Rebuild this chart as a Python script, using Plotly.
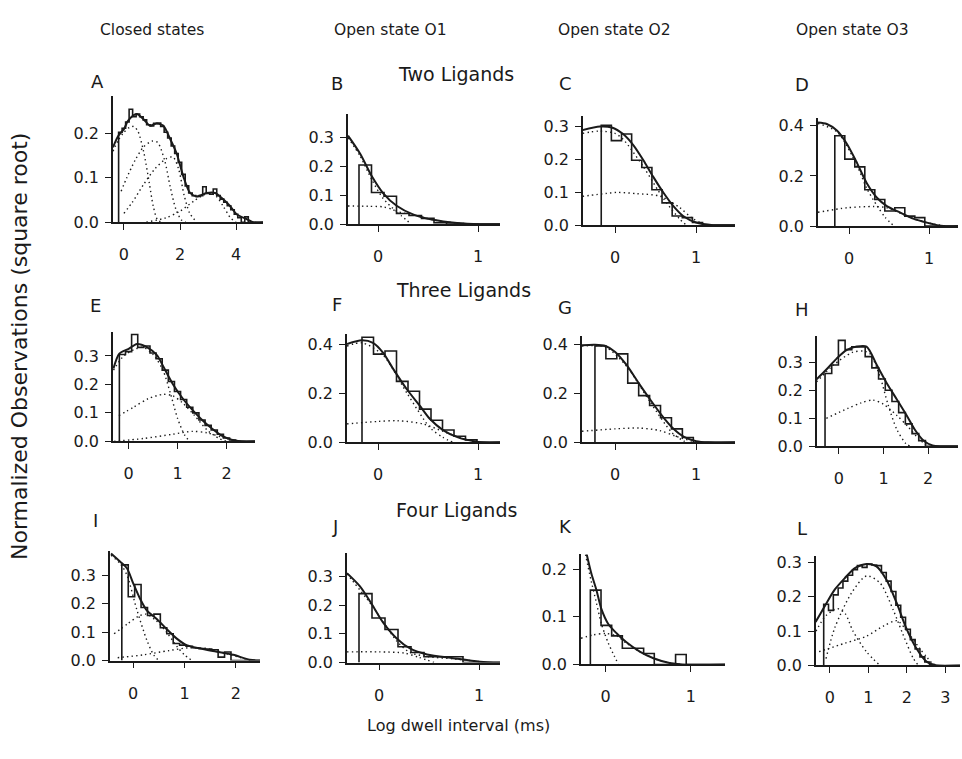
import plotly.graph_objects as go

# ---------------- data: log dwell-time histograms (square-root ordinate) ----------------
# Each histogram: first bin edge, bin width (log units), bin heights.
A_hist_start, A_hist_w = -0.19, 0.125
A_hist = [0.203, 0.212, 0.226, 0.255, 0.238, 0.244, 0.238, 0.231, 0.22, 0.217, 0.223, 0.224,
          0.216, 0.203, 0.19, 0.172, 0.155, 0.135, 0.108, 0.082, 0.066, 0.06, 0.058, 0.06,
          0.08, 0.065, 0.063, 0.075, 0.06, 0.052, 0.045, 0.037, 0.028, 0.018, 0.01, 0.0, 0.012, 0.0]
A_fit = [(-0.39, 0.169), (-0.2, 0.195), (0, 0.21), (0.15, 0.229), (0.45, 0.244), (0.69, 0.233),
         (0.93, 0.218), (1.17, 0.223), (1.4, 0.218), (1.64, 0.189), (1.88, 0.155), (2.12, 0.103),
         (2.36, 0.066), (2.6, 0.058), (2.95, 0.066), (3.25, 0.066), (3.55, 0.051), (3.79, 0.036),
         (4.02, 0.018), (4.38, 0.007), (4.6, 0.0), (4.96, 0.0)]
A_comp1 = [(-0.39, 0.16), (-0.2, 0.185), (0, 0.203), (0.2, 0.214), (0.35, 0.216), (0.5, 0.205),
           (0.7, 0.16), (0.9, 0.09), (1.05, 0.035), (1.2, 0.005), (1.35, 0.0)]
A_comp2 = [(-0.1, 0.07), (0.1, 0.1), (0.4, 0.14), (0.7, 0.17), (1.0, 0.183), (1.2, 0.18),
           (1.45, 0.14), (1.65, 0.08), (1.85, 0.03), (2.05, 0.005), (2.2, 0.0)]
A_comp3 = [(0, 0.02), (0.3, 0.045), (0.7, 0.085), (1.1, 0.12), (1.5, 0.143), (1.75, 0.147),
           (1.95, 0.12), (2.15, 0.06), (2.35, 0.02), (2.6, 0.0)]
A_comp4 = [(0.8, 0.0), (1.5, 0.01), (2.0, 0.025), (2.5, 0.048), (2.8, 0.06), (3.05, 0.066),
           (3.3, 0.058), (3.55, 0.035), (3.8, 0.01), (4.0, 0.0)]

B_hist_start, B_hist_w = -0.19, 0.125
B_hist = [0.205, 0.11, 0.097, 0.037, 0.03, 0.02, 0.005, 0.0]
B_fit = [(-0.3, 0.307), (-0.18, 0.245), (-0.06, 0.165), (0.05, 0.108), (0.19, 0.063), (0.35, 0.034),
         (0.55, 0.015), (0.79, 0.004), (1.02, 0.0), (1.22, 0.0)]
B_comp1 = [(-0.3, 0.063), (-0.1, 0.062), (0.05, 0.06), (0.15, 0.05), (0.23, 0.03), (0.33, 0.0)]
B_comp2 = [(-0.3, 0.3), (-0.18, 0.237), (-0.06, 0.153), (0.05, 0.09), (0.19, 0.045), (0.35, 0.033),
           (0.55, 0.015), (0.79, 0.004), (1.0, 0.0)]

C_hist_start, C_hist_w = -0.17, 0.125
C_hist = [0.305, 0.258, 0.278, 0.198, 0.176, 0.108, 0.068, 0.028, 0.023, 0.008, 0.0]
C_fit = [(-0.4, 0.29), (-0.185, 0.301), (-0.04, 0.298), (0.1, 0.278), (0.23, 0.243), (0.35, 0.198),
         (0.47, 0.148), (0.6, 0.098), (0.72, 0.058), (0.84, 0.028), (1.0, 0.008), (1.21, 0.0), (1.48, 0.0)]
C_comp1 = [(-0.4, 0.28), (-0.2, 0.287), (0.0, 0.28), (0.1, 0.262), (0.35, 0.178), (0.6, 0.08),
           (0.8, 0.018), (0.88, 0.0)]
C_comp2 = [(-0.4, 0.088), (-0.1, 0.097), (0.03, 0.1), (0.27, 0.096), (0.56, 0.088), (0.8, 0.053),
           (0.96, 0.02), (1.13, 0.0)]

D_hist_start, D_hist_w = -0.18, 0.125
D_hist = [0.36, 0.267, 0.236, 0.145, 0.106, 0.06, 0.073, 0.04, 0.034, 0.0]
D_fit = [(-0.39, 0.413), (-0.28, 0.407), (-0.15, 0.38), (-0.03, 0.328), (0.1, 0.25), (0.22, 0.171),
         (0.35, 0.112), (0.47, 0.08), (0.64, 0.054), (0.8, 0.03), (0.97, 0.014), (1.18, 0.0), (1.36, 0.0)]
D_comp1 = [(-0.39, 0.055), (-0.03, 0.073), (0.31, 0.078), (0.47, 0.073), (0.72, 0.04), (0.97, 0.014), (1.2, 0.0)]
D_comp2 = [(-0.39, 0.409), (-0.15, 0.375), (0.1, 0.24), (0.22, 0.15), (0.35, 0.08), (0.45, 0.035), (0.56, 0.0)]

E_hist_start, E_hist_w = -0.19, 0.125
E_hist = [0.305, 0.315, 0.375, 0.33, 0.335, 0.31, 0.29, 0.25, 0.21, 0.175, 0.147, 0.12, 0.1,
          0.075, 0.056, 0.04, 0.025, 0.012, 0.005, 0.0]
E_fit = [(-0.31, 0.256), (-0.19, 0.308), (0.0, 0.325), (0.17, 0.342), (0.37, 0.331), (0.58, 0.302),
         (0.71, 0.262), (0.91, 0.199), (1.12, 0.147), (1.32, 0.107), (1.5, 0.075), (1.7, 0.045),
         (1.9, 0.02), (2.1, 0.006), (2.3, 0.0), (2.58, 0.0)]
E_comp1 = [(-0.31, 0.25), (-0.1, 0.3), (0.15, 0.325), (0.3, 0.33), (0.5, 0.305), (0.7, 0.25),
           (0.85, 0.17), (1.0, 0.08), (1.15, 0.02), (1.25, 0.0)]
E_comp2 = [(-0.2, 0.09), (0.1, 0.12), (0.4, 0.15), (0.7, 0.165), (0.9, 0.16), (1.1, 0.135),
           (1.35, 0.09), (1.6, 0.04), (1.85, 0.01), (2.0, 0.0)]
E_comp3 = [(-0.3, 0.0), (0.3, 0.01), (0.9, 0.025), (1.3, 0.035), (1.6, 0.03), (1.9, 0.015), (2.2, 0.0)]

F_hist_start, F_hist_w = -0.16, 0.115
F_hist = [0.428, 0.359, 0.372, 0.248, 0.208, 0.135, 0.09, 0.05, 0.025, 0.01, 0.0]
F_fit = [(-0.31, 0.4), (-0.16, 0.415), (-0.05, 0.405), (0.05, 0.365), (0.15, 0.3), (0.29, 0.215),
         (0.42, 0.148), (0.52, 0.095), (0.65, 0.05), (0.8, 0.02), (0.95, 0.005), (1.05, 0.0), (1.22, 0.0)]
F_comp1 = [(-0.31, 0.075), (0.0, 0.085), (0.2, 0.088), (0.45, 0.075), (0.65, 0.045), (0.85, 0.015), (1.0, 0.0)]
F_comp2 = [(-0.31, 0.392), (-0.16, 0.405), (0.05, 0.355), (0.29, 0.2), (0.52, 0.06), (0.65, 0.02), (0.75, 0.0)]

G_hist_start, G_hist_w = -0.25, 0.135
G_hist = [0.392, 0.34, 0.36, 0.241, 0.19, 0.15, 0.1, 0.055, 0.02, 0.0]
G_fit = [(-0.41, 0.395), (-0.25, 0.397), (-0.12, 0.392), (0.0, 0.368), (0.14, 0.315), (0.29, 0.241),
         (0.43, 0.175), (0.58, 0.108), (0.72, 0.055), (0.85, 0.022), (1.0, 0.005), (1.15, 0.0), (1.48, 0.0)]
G_comp1 = [(-0.41, 0.045), (0.0, 0.055), (0.3, 0.058), (0.55, 0.048), (0.75, 0.025), (0.95, 0.005), (1.05, 0.0)]
G_comp2 = [(-0.41, 0.392), (-0.12, 0.388), (0.14, 0.31), (0.43, 0.165), (0.7, 0.04), (0.85, 0.005), (0.9, 0.0)]

H_hist_start, H_hist_w = -0.31, 0.15
H_hist = [0.26, 0.29, 0.378, 0.345, 0.355, 0.355, 0.32, 0.28, 0.24, 0.2, 0.16, 0.12, 0.08, 0.045, 0.02, 0.0]
H_fit = [(-0.5, 0.239), (-0.28, 0.274), (-0.05, 0.313), (0.17, 0.343), (0.4, 0.356), (0.62, 0.356),
         (0.85, 0.29), (1.07, 0.226), (1.3, 0.167), (1.52, 0.11), (1.7, 0.06), (1.9, 0.02),
         (2.1, 0.003), (2.3, 0.0), (2.67, 0.0)]
H_comp1 = [(-0.5, 0.23), (-0.12, 0.29), (0.3, 0.335), (0.55, 0.34), (0.7, 0.33), (0.92, 0.25),
           (1.1, 0.15), (1.3, 0.06), (1.5, 0.01), (1.6, 0.0)]
H_comp2 = [(-0.28, 0.1), (0.2, 0.135), (0.5, 0.155), (0.76, 0.165), (1.0, 0.15), (1.3, 0.11),
           (1.55, 0.07), (1.8, 0.025), (2.0, 0.0)]

I_hist_start, I_hist_w = -0.22, 0.125
I_hist = [0.336, 0.224, 0.267, 0.186, 0.158, 0.163, 0.115, 0.094, 0.06, 0.054, 0.05, 0.045,
          0.042, 0.04, 0.038, 0.012, 0.03, 0.0]
I_fit = [(-0.43, 0.376), (-0.25, 0.347), (-0.12, 0.324), (0.0, 0.272), (0.14, 0.215), (0.27, 0.175),
         (0.46, 0.146), (0.65, 0.111), (0.85, 0.077), (1.04, 0.054), (1.3, 0.042), (1.63, 0.031),
         (1.95, 0.02), (2.27, 0.003), (2.47, 0.0)]
I_comp1 = [(-0.43, 0.37), (-0.25, 0.34), (-0.12, 0.3), (0.07, 0.18), (0.27, 0.07), (0.4, 0.02), (0.5, 0.0)]
I_comp2 = [(-0.37, 0.094), (-0.1, 0.13), (0.1, 0.155), (0.25, 0.163), (0.45, 0.14), (0.65, 0.1),
           (0.85, 0.05), (1.0, 0.02), (1.15, 0.0)]
I_comp3 = [(-0.3, 0.01), (0.2, 0.02), (0.7, 0.035), (1.1, 0.045), (1.5, 0.04), (1.9, 0.02), (2.3, 0.0)]

J_hist_start, J_hist_w = -0.2, 0.13
J_hist = [0.24, 0.155, 0.115, 0.055, 0.035, 0.02, 0.02, 0.02, 0.0]
J_fit = [(-0.32, 0.311), (-0.19, 0.265), (-0.07, 0.202), (0.04, 0.14), (0.18, 0.083), (0.31, 0.049),
         (0.48, 0.028), (0.74, 0.015), (1.01, 0.003), (1.21, 0.0)]
J_comp1 = [(-0.32, 0.037), (0.0, 0.037), (0.25, 0.033), (0.4, 0.018), (0.55, 0.0)]
J_comp2 = [(-0.32, 0.309), (-0.07, 0.198), (0.18, 0.074), (0.31, 0.035), (0.5, 0.02), (0.74, 0.013), (1.0, 0.003)]

K_hist_start, K_hist_w = -0.18, 0.125
K_hist = [0.156, 0.082, 0.06, 0.034, 0.034, 0.023, 0.0, 0.0, 0.021, 0.0]
K_fit = [(-0.26, 0.26), (-0.17, 0.192), (-0.11, 0.157), (-0.05, 0.116), (0.03, 0.085), (0.13, 0.065),
         (0.24, 0.047), (0.4, 0.027), (0.56, 0.013), (0.75, 0.003), (0.9, 0.0), (1.4, 0.0)]
K_comp1 = [(-0.26, 0.25), (-0.17, 0.175), (-0.11, 0.13), (-0.05, 0.085), (0.03, 0.045), (0.1, 0.018), (0.15, 0.0)]
K_comp2 = [(-0.29, 0.055), (-0.15, 0.062), (0.0, 0.065), (0.13, 0.06), (0.24, 0.045), (0.4, 0.027),
           (0.56, 0.013), (0.75, 0.003), (0.9, 0.0)]

L_hist_start, L_hist_w = -0.16, 0.125
L_hist = [0.178, 0.16, 0.205, 0.225, 0.245, 0.262, 0.278, 0.29, 0.285, 0.295, 0.292, 0.29, 0.27,
          0.245, 0.215, 0.175, 0.14, 0.105, 0.075, 0.048, 0.025, 0.01, 0.003, 0.0]
L_fit = [(-0.37, 0.126), (-0.13, 0.173), (0.13, 0.221), (0.39, 0.254), (0.65, 0.283), (0.95, 0.295),
         (1.21, 0.288), (1.47, 0.249), (1.73, 0.183), (1.99, 0.107), (2.25, 0.049), (2.51, 0.011),
         (2.77, 0.0), (3.38, 0.0)]
L_comp1 = [(-0.36, 0.1), (-0.1, 0.145), (0.2, 0.165), (0.4, 0.15), (0.6, 0.1), (0.95, 0.04), (1.3, 0.0)]
L_comp2 = [(-0.1, 0.02), (0.13, 0.11), (0.56, 0.21), (0.95, 0.26), (1.3, 0.24), (1.65, 0.16),
           (1.9, 0.09), (2.17, 0.02), (2.3, 0.0)]
L_comp3 = [(-0.28, 0.04), (0.4, 0.065), (0.95, 0.085), (1.4, 0.115), (1.75, 0.13), (2.0, 0.1),
           (2.33, 0.05), (2.7, 0.0)]

COLUMN_TITLES = ["Closed states", "Open state O1", "Open state O2", "Open state O3"]
ROW_TITLES = ["Two Ligands", "Three Ligands", "Four Ligands"]
Y_TITLE = "Normalized Observations (square root)"
X_TITLE = "Log dwell interval (ms)"

# ---------------- layout of the 12 panels (pixel frame + axis ranges) ----------------
W, H = 962, 759
# letter: (left px, right px, top px, baseline px, x_lo, x_hi, y_hi, x ticks, y ticks)
PANELS = {
    "A": (113, 263, 95, 223, -0.39, 4.96, 0.284, [0, 2, 4], [0, 0.1, 0.2]),
    "B": (348, 500, 113, 225, -0.30, 1.22, 0.382, [0, 1], [0, 0.1, 0.2, 0.3]),
    "C": (583, 735, 115, 226, -0.395, 1.48, 0.333, [0, 1], [0, 0.1, 0.2, 0.3]),
    "D": (818, 958, 117, 227, -0.39, 1.36, 0.431, [0, 1], [0, 0.2, 0.4]),
    "E": (113, 255, 335, 446, -0.32, 2.58, 0.383, [0, 1, 2], [0, 0.1, 0.2, 0.3]),
    "F": (347, 500, 337, 447, -0.31, 1.22, 0.44, [0, 1], [0, 0.2, 0.4]),
    "G": (582, 735, 339, 447, -0.41, 1.48, 0.432, [0, 1], [0, 0.2, 0.4]),
    "H": (817, 958, 339, 451, -0.49, 2.67, 0.393, [0, 1, 2], [0, 0.1, 0.2, 0.3]),
    "I": (110, 260, 558, 669, -0.45, 2.47, 0.383, [0, 1, 2], [0, 0.1, 0.2, 0.3]),
    "J": (347, 500, 560, 671, -0.32, 1.21, 0.38, [0, 1], [0, 0.1, 0.2, 0.3]),
    "K": (581, 725, 561, 673, -0.29, 1.40, 0.231, [0, 1], [0, 0.1, 0.2]),
    "L": (816, 960, 563, 674, -0.36, 3.38, 0.317, [0, 1, 2, 3], [0, 0.1, 0.2, 0.3]),
}
LETTER_POS = {"A": (97, 80), "B": (337, 82), "C": (565, 82), "D": (802, 83),
              "E": (95, 308), "F": (337, 307), "G": (565, 310), "H": (802, 312),
              "I": (95, 527), "J": (335, 533), "K": (565, 533), "L": (802, 535)}

DATA = {
    "A": (A_hist_start, A_hist_w, A_hist, A_fit, [A_comp1, A_comp2, A_comp3, A_comp4]),
    "B": (B_hist_start, B_hist_w, B_hist, B_fit, [B_comp1, B_comp2]),
    "C": (C_hist_start, C_hist_w, C_hist, C_fit, [C_comp1, C_comp2]),
    "D": (D_hist_start, D_hist_w, D_hist, D_fit, [D_comp1, D_comp2]),
    "E": (E_hist_start, E_hist_w, E_hist, E_fit, [E_comp1, E_comp2, E_comp3]),
    "F": (F_hist_start, F_hist_w, F_hist, F_fit, [F_comp1, F_comp2]),
    "G": (G_hist_start, G_hist_w, G_hist, G_fit, [G_comp1, G_comp2]),
    "H": (H_hist_start, H_hist_w, H_hist, H_fit, [H_comp1, H_comp2]),
    "I": (I_hist_start, I_hist_w, I_hist, I_fit, [I_comp1, I_comp2, I_comp3]),
    "J": (J_hist_start, J_hist_w, J_hist, J_fit, [J_comp1, J_comp2]),
    "K": (K_hist_start, K_hist_w, K_hist, K_fit, [K_comp1, K_comp2]),
    "L": (L_hist_start, L_hist_w, L_hist, L_fit, [L_comp1, L_comp2, L_comp3]),
}

FONT = "DejaVu Sans, Liberation Sans, Arial, sans-serif"
INK = "#1a1a1a"
TICK_SIZE = 16

fig = go.Figure()
layout = dict(
    width=W, height=H, margin=dict(l=0, r=0, t=0, b=0),
    paper_bgcolor="white", plot_bgcolor="white", showlegend=False,
    font=dict(family=FONT, size=16, color=INK),
)
annotations = []

for i, key in enumerate(PANELS):
    left, right, top, base, xlo, xhi, yhi, xt, yt = PANELS[key]
    start, width, heights, fit, comps = DATA[key]
    n = i + 1
    xa, ya = f"x{n}", f"y{n}"

    # dotted fit components
    for comp in comps:
        fig.add_trace(go.Scatter(
            x=[p[0] for p in comp], y=[p[1] for p in comp], xaxis=xa, yaxis=ya,
            mode="lines", line=dict(color=INK, width=1.4, dash="1.4px,3.2px", shape="spline", smoothing=0.8),
            hoverinfo="skip"))

    # histogram outline (step)
    edges = [start + k * width for k in range(len(heights) + 1)]
    hx = [edges[0]] + edges + [xhi]
    hy = [0] + list(heights) + [0, 0]
    fig.add_trace(go.Scatter(
        x=hx, y=hy, xaxis=xa, yaxis=ya, mode="lines",
        line=dict(color=INK, width=1.6, shape="hv"), hoverinfo="skip"))

    # overall fit
    fig.add_trace(go.Scatter(
        x=[p[0] for p in fit], y=[p[1] for p in fit], xaxis=xa, yaxis=ya,
        mode="lines", line=dict(color=INK, width=2.0, shape="spline", smoothing=0.8),
        hoverinfo="skip"))

    suffix = "" if n == 1 else str(n)
    layout["xaxis" + suffix] = dict(
        domain=[left / W, right / W], range=[xlo, xhi], anchor=ya,
        showgrid=False, zeroline=False, showline=True, linecolor=INK, linewidth=1.6,
        ticks="outside", ticklen=6, tickwidth=1.3, tickcolor=INK,
        tickvals=xt, ticktext=[str(v) for v in xt], ticklabelstandoff=11,
        tickfont=dict(size=TICK_SIZE, family=FONT, color=INK), fixedrange=True)
    layout["yaxis" + suffix] = dict(
        domain=[(H - base) / H, (H - top) / H], range=[0, yhi], anchor=xa,
        showgrid=False, zeroline=False, showline=True, linecolor=INK, linewidth=1.6,
        ticks="outside", ticklen=6, tickwidth=1.3, tickcolor=INK,
        tickvals=yt, ticktext=[f"{v:.1f}" for v in yt], ticklabelstandoff=3,
        tickfont=dict(size=TICK_SIZE, family=FONT, color=INK), fixedrange=True)

    lx, ly = LETTER_POS[key]
    annotations.append(dict(text=key, x=lx / W, y=1 - ly / H, xref="paper", yref="paper",
                            showarrow=False, font=dict(size=18, family=FONT, color=INK),
                            xanchor="center", yanchor="middle"))

for title, cx in zip(COLUMN_TITLES, [152, 390, 614, 852]):
    annotations.append(dict(text=title, x=cx / W, y=1 - 27 / H, xref="paper", yref="paper",
                            showarrow=False, font=dict(size=15.5, family=FONT, color=INK),
                            xanchor="center", yanchor="middle"))
for title, (cx, cy) in zip(ROW_TITLES, [(456, 72), (463, 292), (456, 516)]):
    annotations.append(dict(text=title, x=cx / W, y=1 - cy / H, xref="paper", yref="paper",
                            showarrow=False, font=dict(size=19, family=FONT, color=INK),
                            xanchor="center", yanchor="middle"))

annotations.append(dict(text=Y_TITLE, x=19 / W, y=1 - 350 / H, xref="paper", yref="paper",
                        showarrow=False, textangle=-90, font=dict(size=22, family=FONT, color=INK),
                        xanchor="center", yanchor="middle"))
annotations.append(dict(text=X_TITLE, x=458 / W, y=1 - 735 / H, xref="paper", yref="paper",
                        showarrow=False, font=dict(size=16, family=FONT, color=INK),
                        xanchor="center", yanchor="middle"))

layout["annotations"] = annotations
fig.update_layout(**layout)
fig.write_html("out.html")
